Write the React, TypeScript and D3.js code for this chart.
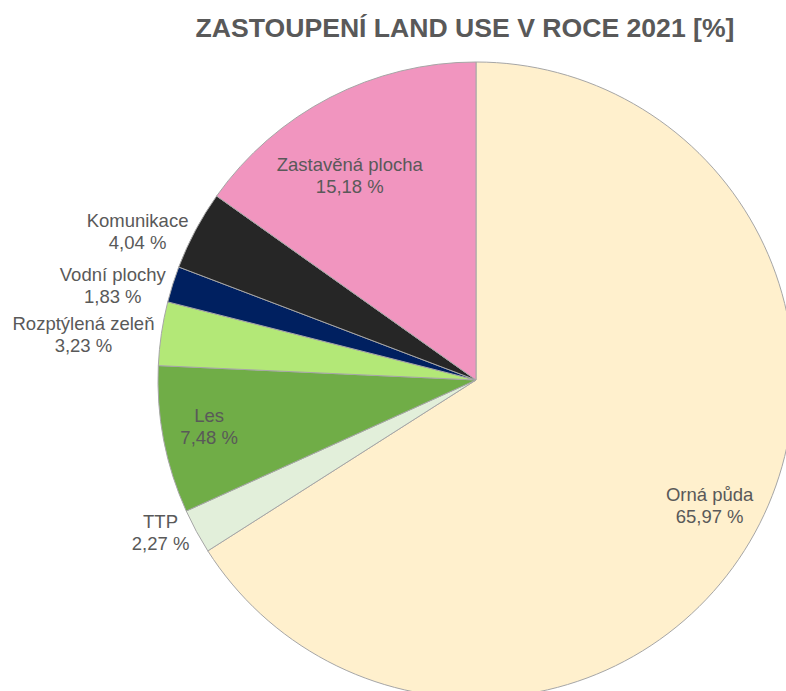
import React, { useEffect, useRef } from "react";
import * as d3 from "d3";

const categories = [
  "Orná půda",
  "TTP",
  "Les",
  "Rozptýlená zeleň",
  "Vodní plochy",
  "Komunikace",
  "Zastavěná plocha",
];
const values = [65.97, 2.27, 7.48, 3.23, 1.83, 4.04, 15.18];
const colors = ["#FFF0CD", "#E2EFDA", "#70AD47", "#B3E877", "#002060", "#262626", "#F195BF"];
// label placement: inside (radius fraction + angle tweak in degrees) or outside
const labelMode = ["inside", "outside", "inside", "outside", "outside", "outside", "inside"];
const insideRadiusFrac = [0.834, 0, 0.852, 0, 0, 0, 0.757];
const insideAngleAdj = [-0.5, 0, 0.9, 0, 0, 0, -4.3];
const titleText = "ZASTOUPENÍ LAND USE V ROCE 2021 [%]";

const W = 786;
const H = 691;
const FONT = "'Liberation Sans', Arial, Helvetica, sans-serif";
const TEXT_COLOR = "#595959";

function fmt(v: number) {
  return v.toFixed(2).replace(".", ",") + " %";
}

export default function App() {
  const ref = useRef<SVGSVGElement | null>(null);

  useEffect(() => {
    const svg = d3.select(ref.current);
    svg.selectAll("*").remove();

    const cx = 476;
    const cy = 380;
    const R = 318;

    svg
      .append("text")
      .attr("x", 465)
      .attr("y", 37)
      .attr("text-anchor", "middle")
      .attr("font-family", FONT)
      .attr("font-weight", "bold")
      .attr("font-size", 26.6)
      .attr("fill", TEXT_COLOR)
      .text(titleText);

    const data = categories.map((c, i) => ({ name: c, value: values[i], i }));
    const pie = d3
      .pie<any>()
      .sort(null)
      .value((d: any) => d.value)
      .startAngle(0)
      .endAngle(2 * Math.PI);
    const arcs = pie(data);
    const arc = d3.arc<any>().innerRadius(0).outerRadius(R);

    const g = svg.append("g").attr("transform", `translate(${cx},${cy})`);
    g.selectAll("path")
      .data(arcs)
      .enter()
      .append("path")
      .attr("d", arc as any)
      .attr("fill", (d: any) => colors[d.data.i])
      .attr("stroke", "#A6A6A6")
      .attr("stroke-width", 1)
      .attr("stroke-linejoin", "round");

    const lineGap = 22;
    arcs.forEach((a: any) => {
      const i = a.data.i;
      const mid = (a.startAngle + a.endAngle) / 2;
      const lbl = g
        .append("text")
        .attr("font-family", FONT)
        .attr("font-size", 18.5)
        .attr("fill", TEXT_COLOR)
        .attr("text-anchor", "middle");
      const t1 = lbl.append("tspan").text(categories[i]);
      const t2 = lbl.append("tspan").text(fmt(values[i]));
      let bx: number;
      let by: number;
      if (labelMode[i] === "inside") {
        const ang = mid + (insideAngleAdj[i] * Math.PI) / 180;
        const r = insideRadiusFrac[i] * R;
        bx = r * Math.sin(ang);
        by = -r * Math.cos(ang);
      } else {
        const ex = R * Math.sin(mid);
        const ey = -R * Math.cos(mid);
        const w1 = (t1.node() as SVGTSpanElement).getComputedTextLength();
        const w2 = (t2.node() as SVGTSpanElement).getComputedTextLength();
        const w = Math.max(w1, w2);
        bx = ex - 7 - w / 2;
        by = ey + 1;
      }
      t1.attr("x", bx).attr("y", by - 4.5);
      t2.attr("x", bx).attr("y", by - 4.5 + lineGap);
    });
  }, []);

  return (
    <svg
      ref={ref}
      width={W}
      height={H}
      style={{ position: "absolute", left: 0, top: 0, background: "#fff", overflow: "hidden" }}
    />
  );
}
